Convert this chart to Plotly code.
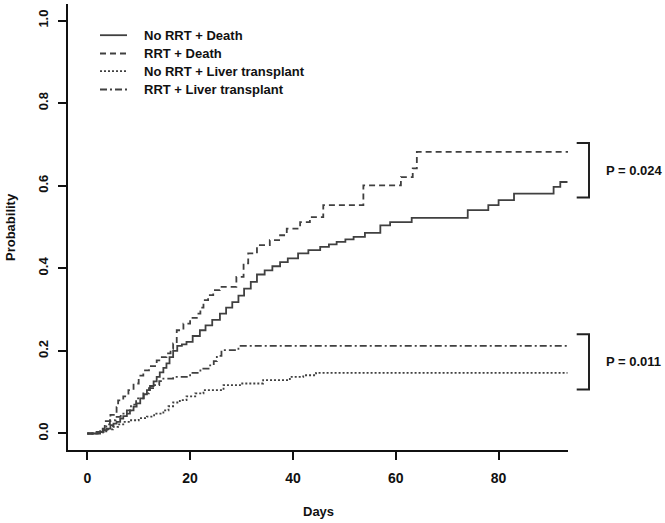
import plotly.graph_objects as go

# ---- data (days, cumulative probability) ----
days_norrt_death = [0, 2.5, 3.2, 3.8, 4.5, 5.1, 5.7, 6.4, 7.0, 7.7, 8.3, 9.0, 9.6, 10.3, 11.0, 11.6, 12.2, 12.9,
                    13.5, 14.1, 14.8, 15.4, 16.0, 16.7, 17.5, 18.4, 19.3, 20.5, 21.9, 23.0, 24.3, 25.8, 27.0, 28.2,
                    29.4, 30.5, 31.8, 33.0, 34.5, 36.0, 37.5, 39.0, 41.0, 43.0, 45.3, 47.0, 48.5, 50.2, 51.8, 54.0,
                    57.0, 58.9, 63.1, 74.0, 78.0, 80.0, 83.0, 90.7, 92.0, 93.4]
prob_norrt_death = [0, 0.004, 0.008, 0.012, 0.02, 0.024, 0.028, 0.036, 0.042, 0.048, 0.056, 0.065, 0.073, 0.085,
                    0.095, 0.105, 0.115, 0.126, 0.137, 0.148, 0.159, 0.17, 0.185, 0.2, 0.212, 0.216, 0.222, 0.236,
                    0.25, 0.262, 0.275, 0.29, 0.305, 0.318, 0.334, 0.351, 0.367, 0.385, 0.395, 0.405, 0.415, 0.424,
                    0.436, 0.444, 0.452, 0.458, 0.464, 0.47, 0.476, 0.486, 0.504, 0.512, 0.522, 0.541, 0.553, 0.565,
                    0.581, 0.597, 0.609, 0.609]

days_rrt_death = [0, 1.5, 2.5, 3.4, 4.5, 5.7, 6.0, 7.0, 8.0, 9.0, 10.0, 10.9, 12.0, 13.5, 14.5, 15.4, 16.2, 16.7,
                  17.4, 18.7, 20.0, 21.3, 22.0, 22.6, 23.5, 24.5, 25.8, 29.0, 30.4, 31.3, 33.0, 35.5, 37.5, 38.8,
                  41.4, 43.3, 45.9, 53.7, 61.0, 63.3, 64.1, 93.6]
prob_rrt_death = [0, 0.004, 0.01, 0.03, 0.045, 0.064, 0.08, 0.09, 0.105, 0.121, 0.14, 0.153, 0.163, 0.177, 0.185,
                  0.194, 0.205, 0.218, 0.25, 0.266, 0.28, 0.29, 0.305, 0.323, 0.335, 0.347, 0.355, 0.379, 0.412,
                  0.436, 0.456, 0.468, 0.48, 0.496, 0.512, 0.524, 0.553, 0.601, 0.621, 0.642, 0.682, 0.682]

days_norrt_lt = [0, 2.0, 3.0, 4.0, 5.0, 6.0, 7.0, 8.3, 10.0, 11.6, 13.0, 14.8, 15.8, 16.7, 18.0, 19.3, 21.0, 22.6,
                 26.5, 29.7, 34.2, 39.4, 42.0, 44.5, 93.4]
prob_norrt_lt = [0, 0.002, 0.005, 0.01, 0.016, 0.022, 0.028, 0.032, 0.037, 0.041, 0.048, 0.056, 0.066, 0.075, 0.081,
                 0.09, 0.097, 0.105, 0.117, 0.121, 0.129, 0.137, 0.141, 0.147, 0.147]

days_rrt_lt = [0, 2.0, 3.0, 3.7, 4.4, 5.5, 6.5, 7.7, 8.5, 9.5, 10.9, 12.0, 12.8, 14.0, 14.8, 16.7, 20.0, 22.0, 23.9,
               24.6, 25.2, 26.1, 29.4, 93.4]
prob_rrt_lt = [0, 0.004, 0.012, 0.022, 0.032, 0.04, 0.048, 0.056, 0.07, 0.085, 0.097, 0.11, 0.117, 0.127, 0.133,
               0.137, 0.147, 0.157, 0.165, 0.175, 0.188, 0.202, 0.212, 0.212]

series_names = ["No RRT + Death", "RRT + Death", "No RRT + Liver transplant", "RRT + Liver transplant"]
x_ticks = [0, 20, 40, 60, 80]
y_ticks = [0.0, 0.2, 0.4, 0.6, 0.8, 1.0]
y_tick_labels = ["0.0", "0.2", "0.4", "0.6", "0.8", "1.0"]
p_labels = ["P = 0.024", "P = 0.011"]

# ---- styling ----
W, H = 665, 523
L, R, T, B = 68, 568, 3.8, 449.8
LINE = "#404040"
FONT = "Liberation Sans, Arial, sans-serif"
dashes = ["solid", "6px,4px", "2px,2px", "7px,3px,2px,3px"]


def px(xp):
    return (xp - L) / (R - L)


def py(yp):
    return (B - yp) / (B - T)


fig = go.Figure()
data = [(days_norrt_death, prob_norrt_death), (days_rrt_death, prob_rrt_death),
        (days_norrt_lt, prob_norrt_lt), (days_rrt_lt, prob_rrt_lt)]
for (xs, ys), name, dash in zip(data, series_names, dashes):
    fig.add_trace(go.Scatter(x=xs, y=ys, mode="lines", name=name, line_shape="hv",
                             line=dict(color=LINE, width=1.8, dash=dash), showlegend=False))

shapes = []
annotations = []
# legend
leg_rows = [35, 53.3, 71, 89.3]
for yrow, name, dash in zip(leg_rows, series_names, dashes):
    shapes.append(dict(type="line", xref="paper", yref="paper", x0=px(100), x1=px(127), y0=py(yrow), y1=py(yrow),
                       line=dict(color=LINE, width=1.8, dash=dash)))
    annotations.append(dict(xref="paper", yref="paper", x=px(142), y=py(yrow), text=name, showarrow=False,
                            xanchor="left", yanchor="middle", font=dict(family=FONT, size=13, color="#111")))

# brackets + p values
for (ytop, ybot, ytxt), lab in zip([(142.7, 197.3, 170.7), (334, 389.3, 361.7)], p_labels):
    x0, x1 = px(576.7), px(589)
    shapes.append(dict(type="path", xref="paper", yref="paper",
                       path=f"M {x0} {py(ytop)} L {x1} {py(ytop)} L {x1} {py(ybot)} L {x0} {py(ybot)}",
                       line=dict(color="#222", width=2)))
    annotations.append(dict(xref="paper", yref="paper", x=px(604), y=py(ytxt), text=lab, showarrow=False,
                            xanchor="left", yanchor="middle", font=dict(family=FONT, size=13, color="#111")))

# axis titles
annotations.append(dict(xref="paper", yref="paper", x=px(318), y=py(511.7), text="<b>Days</b>", showarrow=False,
                        xanchor="center", yanchor="middle", font=dict(family=FONT, size=13, color="#111")))
annotations.append(dict(xref="paper", yref="paper", x=px(10), y=py(226.8), text="<b>Probability</b>",
                        showarrow=False, textangle=-90, xanchor="center", yanchor="middle",
                        font=dict(family=FONT, size=13, color="#111")))

for a in annotations:
    if not a["text"].startswith("<b>"):
        a["text"] = "<b>" + a["text"] + "</b>"

fig.update_layout(
    width=W, height=H, autosize=False,
    margin=dict(l=L, r=W - R, t=T, b=H - B, pad=0),
    paper_bgcolor="white", plot_bgcolor="white",
    shapes=shapes, annotations=annotations,
    font=dict(family=FONT, size=13, color="#111"),
    xaxis=dict(range=[-3.75, 93.5], tickvals=x_ticks, ticktext=[f"<b>{v}</b>" for v in x_ticks],
               showgrid=False, zeroline=False, showline=True, linecolor="#111", linewidth=2,
               ticks="outside", ticklen=8, tickwidth=1.5, tickcolor="#111", ticklabelstandoff=6,
               tickfont=dict(family=FONT, size=14, color="#111")),
    yaxis=dict(range=[-0.04, 1.04], tickvals=y_ticks, ticktext=[f"<b>{t}</b>" for t in y_tick_labels],
               showgrid=False, zeroline=False, showline=True, linecolor="#111", linewidth=2,
               ticks="outside", ticklen=8, tickwidth=1.5, tickcolor="#111", tickangle=-90,
               ticklabelstandoff=5, tickfont=dict(family=FONT, size=13, color="#111")),
)

fig.write_html("out.html")
